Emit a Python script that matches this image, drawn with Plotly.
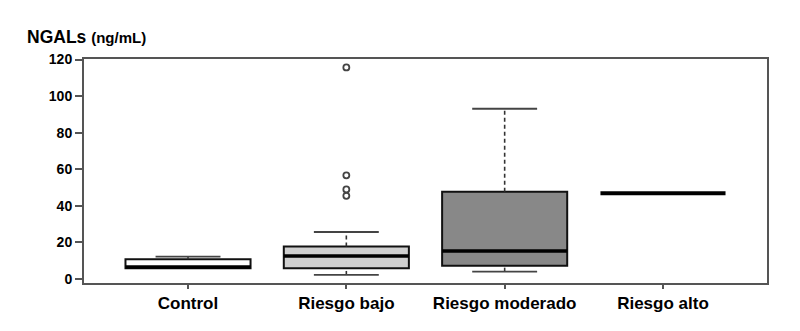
import plotly.graph_objects as go

categories = ["Control", "Riesgo bajo", "Riesgo moderado", "Riesgo alto"]
q1 = [5.8, 5.8, 7.3, 46.9]
median = [6.5, 12.6, 15.3, 46.9]
q3 = [10.8, 17.7, 47.7, 46.9]
lower_whisker = [5.8, 2.2, 4.0, 46.9]
upper_whisker = [12.2, 25.7, 93.1, 46.9]
fill_colors = ["#ffffff", "#d0d0d0", "#888888", "#ffffff"]
outlier_values = [[], [115.7, 56.7, 49.0, 45.5], [], []]
y_ticks = [0, 20, 40, 60, 80, 100, 120]

BOX_W = 0.79
CAP_W = 0.41
font_family = "Liberation Sans, Arial, sans-serif"

fig = go.Figure()

for i, cat in enumerate(categories):
    if q1[i] == q3[i]:
        # degenerate group: only a median line
        fig.add_trace(go.Scatter(
            x=[i - BOX_W / 2, i + BOX_W / 2], y=[median[i], median[i]],
            mode="lines", line=dict(color="#000000", width=4),
            showlegend=False, hoverinfo="skip"))
        continue
    # whisker stems (dashed)
    for lo, hi in [(lower_whisker[i], q1[i]), (q3[i], upper_whisker[i])]:
        if hi > lo:
            fig.add_trace(go.Scatter(
                x=[i, i], y=[lo, hi], mode="lines",
                line=dict(color="#333333", width=1.6, dash="4px,3px"),
                showlegend=False, hoverinfo="skip"))
    # caps
    for v, base in [(lower_whisker[i], q1[i]), (upper_whisker[i], q3[i])]:
        if v != base:
            fig.add_trace(go.Scatter(
                x=[i - CAP_W / 2, i + CAP_W / 2], y=[v, v], mode="lines",
                line=dict(color="#444444", width=1.8),
                showlegend=False, hoverinfo="skip"))
    # box
    fig.add_trace(go.Box(
        x=[i], q1=[q1[i]], median=[median[i]], q3=[q3[i]],
        lowerfence=[q1[i]], upperfence=[q3[i]],
        width=BOX_W, fillcolor=fill_colors[i],
        line=dict(color="#111111", width=2), boxpoints=False,
        showlegend=False, name=cat))
    # thick median
    fig.add_trace(go.Scatter(
        x=[i - BOX_W / 2, i + BOX_W / 2], y=[median[i], median[i]],
        mode="lines", line=dict(color="#000000", width=3.5),
        showlegend=False, hoverinfo="skip"))
    if outlier_values[i]:
        fig.add_trace(go.Scatter(
            x=[i] * len(outlier_values[i]), y=outlier_values[i], mode="markers",
            marker=dict(symbol="circle-open", size=6, color="#444444",
                        line=dict(width=1.8, color="#444444")),
            showlegend=False, hoverinfo="skip"))

fig.update_layout(
    width=800, height=331,
    margin=dict(l=84, r=33, t=59, b=48),
    paper_bgcolor="white", plot_bgcolor="white",
    font=dict(family=font_family, color="#000000"),
    title=dict(
        text="<b>NGALs</b> <b><span style='font-size:15px'>(ng/mL)</span></b>",
        font=dict(size=17.5, family=font_family, color="#000000"),
        xref="container", yref="container",
        x=27 / 800, xanchor="left", y=1 - 37 / 331, yanchor="middle"),
    xaxis=dict(
        range=[-0.657, 3.657], tickmode="array",
        tickvals=list(range(len(categories))), ticktext=categories,
        tickfont=dict(size=17, weight="bold", family=font_family),
        ticks="outside", ticklen=4, tickcolor="#555555", tickwidth=1.5,
        showgrid=False, zeroline=False,
        showline=True, linecolor="#555555", linewidth=2, mirror=True),
    yaxis=dict(
        range=[-2.2, 120.3], tickmode="array", tickvals=y_ticks,
        tickfont=dict(size=14, weight="bold", family=font_family),
        ticks="outside", ticklen=7, tickcolor="#555555", tickwidth=1.5,
        showgrid=False, zeroline=False,
        showline=True, linecolor="#555555", linewidth=2, mirror=True),
)

fig.write_html(
    "out.html",
    config={"displayModeBar": False},
    post_script="document.body.style.margin='0';document.body.style.overflow='hidden';")
